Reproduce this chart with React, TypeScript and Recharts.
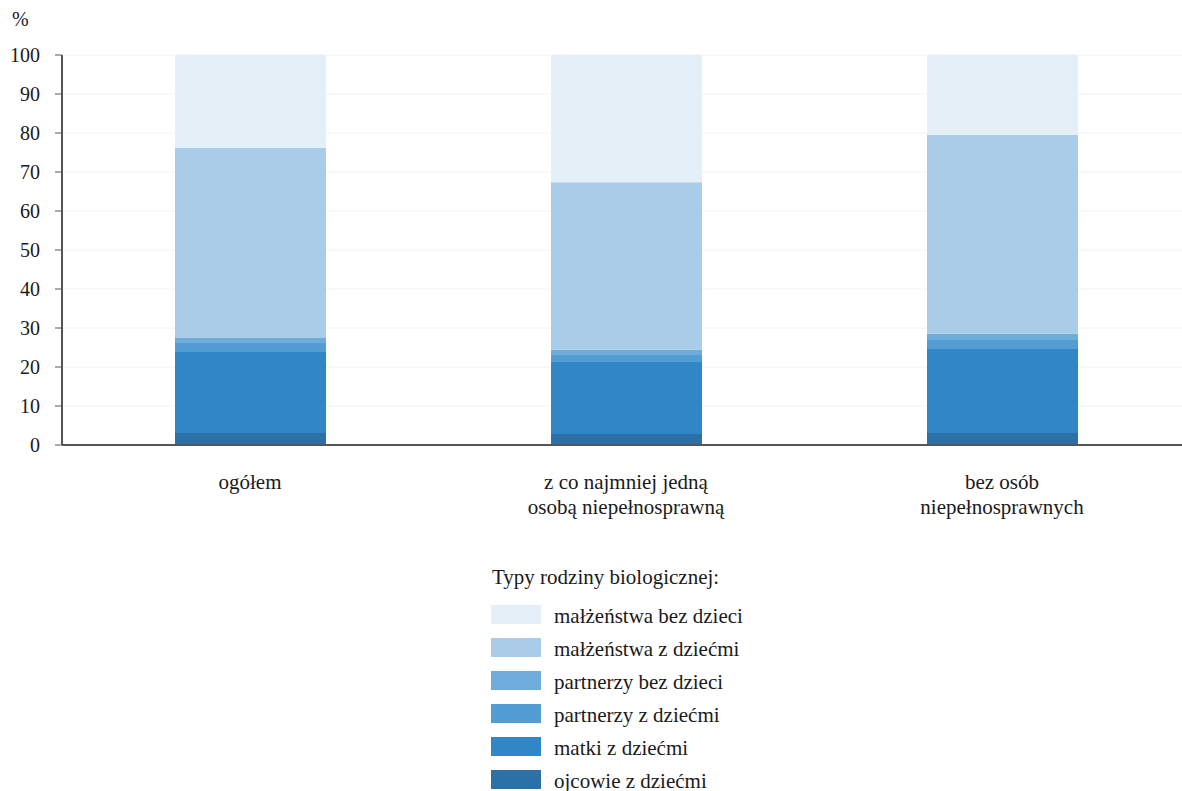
import React from 'react';
import { BarChart, Bar, XAxis, YAxis, CartesianGrid, Legend } from 'recharts';

const categories = ['ogółem', 'z co najmniej jedną\nosobą niepełnosprawną', 'bez osób\nniepełnosprawnych'];
const ojcowie = [3.1, 2.8, 3.1];
const matki = [20.75, 18.5, 21.5];
const partnerzyZDziecmi = [2.3, 1.8, 2.3];
const partnerzyBezDzieci = [1.3, 1.3, 1.6];
const malzenstwaZDziecmi = [48.75, 43.0, 51.0];
const malzenstwaBezDzieci = [23.8, 32.6, 20.5];
const yTicks = [0, 10, 20, 30, 40, 50, 60, 70, 80, 90, 100];

const series = [
  { key: 'ojcowie', name: 'ojcowie z dziećmi', values: ojcowie, color: '#2b70a6' },
  { key: 'matki', name: 'matki z dziećmi', values: matki, color: '#3186c6' },
  { key: 'pzd', name: 'partnerzy z dziećmi', values: partnerzyZDziecmi, color: '#529dd4' },
  { key: 'pbd', name: 'partnerzy bez dzieci', values: partnerzyBezDzieci, color: '#6eaddb' },
  { key: 'mzd', name: 'małżeństwa z dziećmi', values: malzenstwaZDziecmi, color: '#a9cde8' },
  { key: 'mbd', name: 'małżeństwa bez dzieci', values: malzenstwaBezDzieci, color: '#e4eff8' },
];

const data = categories.map((c, i) => {
  const row: any = { name: c };
  series.forEach((s) => (row[s.key] = s.values[i]));
  return row;
});

const FONT = 'Liberation Serif';
const FS = 20;
const FS_TXT = 21;

const CatTick = (props: any) => {
  const { x, y, payload } = props;
  const lines = String(payload.value).split('\n');
  return (
    <text x={x} y={y} textAnchor="middle" style={{ fontFamily: FONT }} fontSize={FS_TXT} fill="#1a1a1a">
      {lines.map((l, i) => (
        <tspan key={i} x={x} dy={i === 0 ? 36 : 25}>
          {l}
        </tspan>
      ))}
    </text>
  );
};

const LegendContent = (props: any) => {
  const payload = props.payload || [];
  const items = [...series].reverse().map((s) => {
    const p = payload.find((it: any) => it.value === s.name);
    return { value: s.name, color: p ? p.color : s.color };
  });
  return (
    <div style={{ fontFamily: FONT, fontSize: FS_TXT, color: '#1a1a1a' }}>
      <div style={{ height: 33, lineHeight: '24px', paddingLeft: 1, paddingTop: 2 }}>Typy rodziny biologicznej:</div>
      {items.map((it: any) => (
        <div key={it.value} style={{ display: 'flex', alignItems: 'center', height: 33 }}>
          <div style={{ width: 50, height: 19, background: it.color, marginRight: 13, flex: 'none' }} />
          <span style={{ lineHeight: '22px', marginTop: 2, whiteSpace: 'nowrap' }}>{it.value}</span>
        </div>
      ))}
    </div>
  );
};

export default function App() {
  return (
    <div style={{ position: 'absolute', left: 0, top: 0, width: 1182, height: 791, overflow: 'hidden', background: '#fff', fontFamily: FONT }}>
      <div style={{ position: 'absolute', left: 12, top: 8, fontFamily: FONT, fontSize: FS, color: '#1a1a1a' }}>%</div>
      <BarChart
        width={1190}
        height={791}
        data={data}
        margin={{ top: 55, right: 0, left: 0, bottom: 286 }}
        style={{ fontFamily: FONT }}
      >
        <CartesianGrid vertical={false} stroke="#f2f2f2" strokeWidth={1} />
        <XAxis
          dataKey="name"
          height={60}
          tickLine={false}
          axisLine={{ stroke: '#555', strokeWidth: 2 }}
          tick={<CatTick />}
          interval={0}
        />
        <YAxis
          width={62}
          domain={[0, 100]}
          ticks={yTicks}
          interval={0}
          tickSize={7}
          tickMargin={15}
          tickLine={{ stroke: '#555', strokeWidth: 1 }}
          axisLine={{ stroke: '#555', strokeWidth: 2 }}
          tick={{ style: { fontFamily: FONT }, fontSize: FS, fill: '#1a1a1a' }}
        />
        <Legend
          layout="vertical"
          align="center"
          verticalAlign="middle"
          content={<LegendContent />}
          wrapperStyle={{ position: 'absolute', left: 491, top: 563, width: 340 }}
        />
        {series.map((s) => (
          <Bar
            key={s.key}
            dataKey={s.key}
            name={s.name}
            stackId="a"
            fill={s.color}
            barSize={151}
            isAnimationActive={false}
          />
        ))}
      </BarChart>
    </div>
  );
}
